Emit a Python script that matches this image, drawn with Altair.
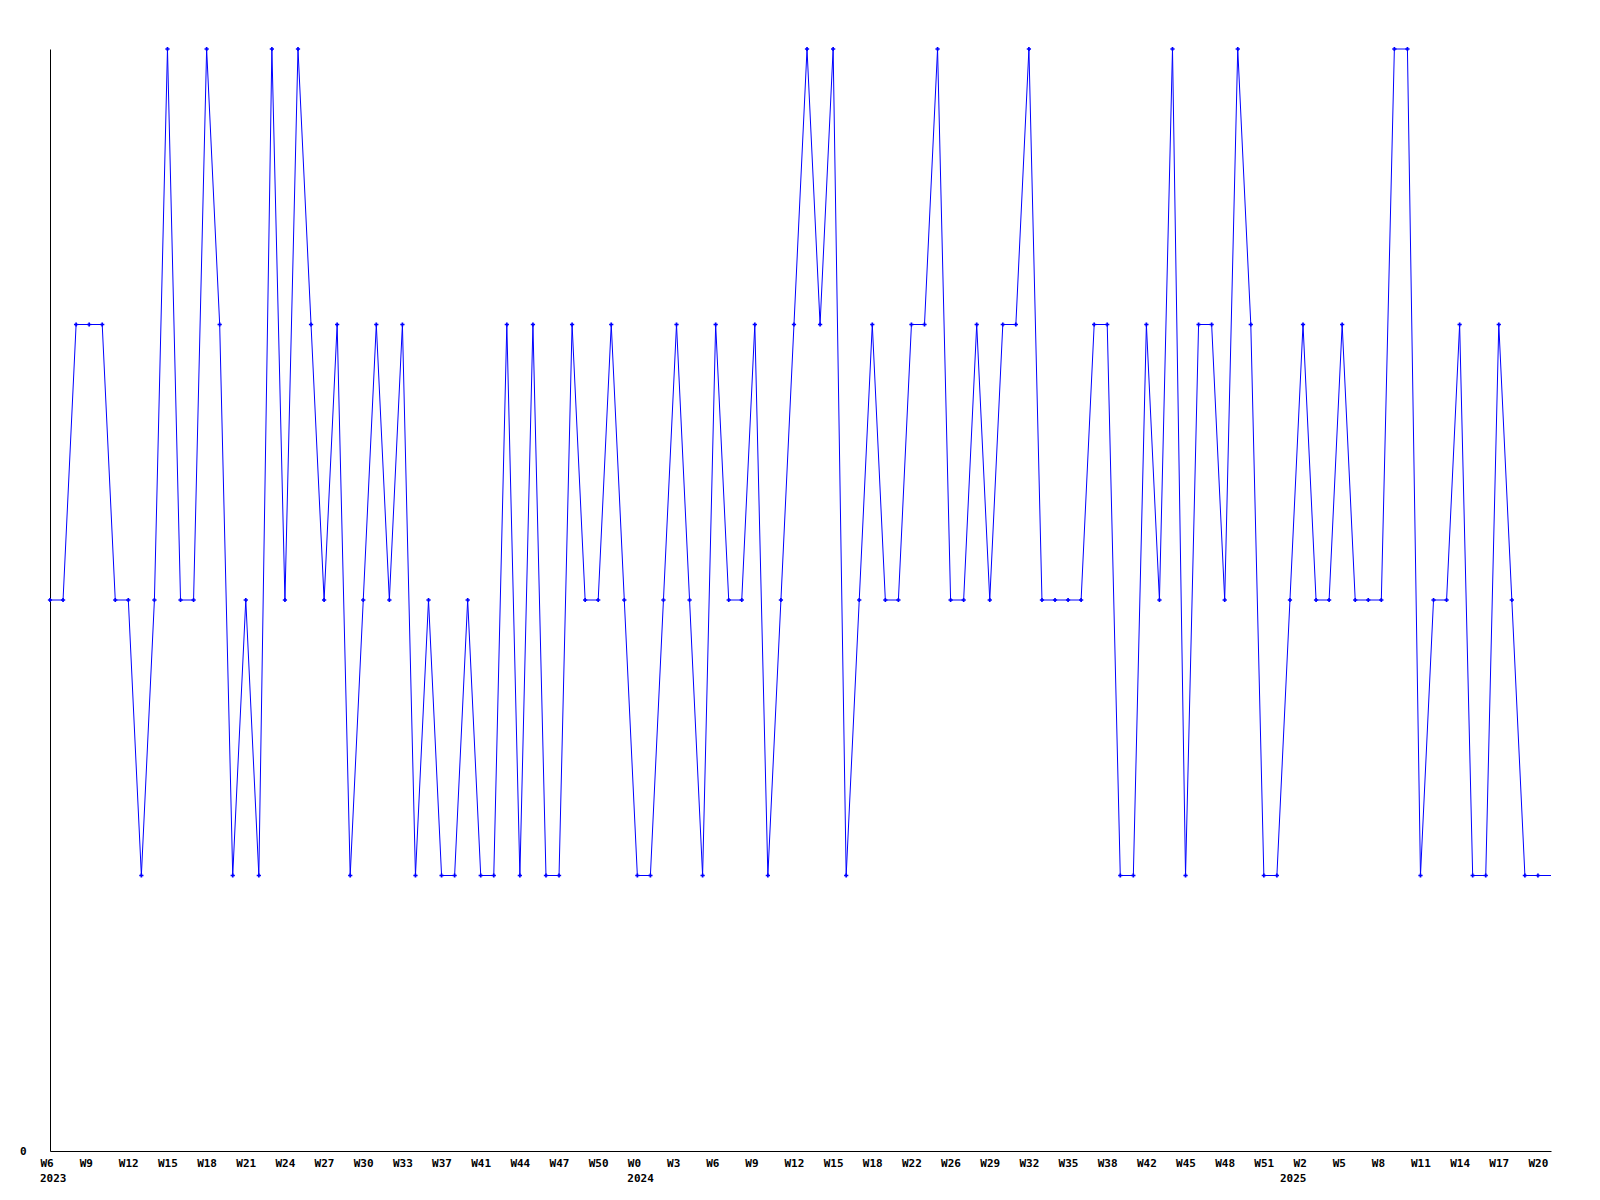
import altair as alt
import pandas as pd

values = [2, 2, 3, 3, 3, 2, 2, 1, 2, 4,
          2, 2, 4, 3, 1, 2, 1, 4, 2, 4,
          3, 2, 3, 1, 2, 3, 2, 3, 1, 2,
          1, 1, 2, 1, 1, 3, 1, 3, 1, 1,
          3, 2, 2, 3, 2, 1, 1, 2, 3, 2,
          1, 3, 2, 2, 3, 1, 2, 3, 4, 3,
          4, 1, 2, 3, 2, 2, 3, 3, 4, 2,
          2, 3, 2, 3, 3, 4, 2, 2, 2, 2,
          3, 3, 1, 1, 3, 2, 4, 1, 3, 3,
          2, 4, 3, 1, 1, 2, 3, 2, 2, 3,
          2, 2, 2, 4, 4, 1, 2, 2, 3, 1,
          1, 3, 2, 1, 1, 1]

week_labels = ["W6", "W9", "W12", "W15", "W18", "W21", "W24", "W27", "W30", "W33",
               "W37", "W41", "W44", "W47", "W50", "W0", "W3", "W6", "W9", "W12",
               "W15", "W18", "W22", "W26", "W29", "W32", "W35", "W38", "W42", "W45",
               "W48", "W51", "W2", "W5", "W8", "W11", "W14", "W17", "W20"]
label_step = 3

years = ["2023", "2024", "2025"]
year_index = [0, 45, 95]

n = len(values)
df = pd.DataFrame({"idx": list(range(n)), "value": values})
ydf = pd.DataFrame({"idx": year_index, "text": years})

W, H = 1501, 1102
FONT = "DejaVu Sans Mono"

label_array = "[" + ",".join("'%s'" % s for s in week_labels) + "]"
tick_vals = [i * label_step for i in range(len(week_labels))]

xscale = alt.Scale(domain=[0, n - 1], nice=False, zero=False)
yscale = alt.Scale(domain=[0, 4], nice=False, zero=True)

xaxis = alt.Axis(values=tick_vals, labelExpr=label_array + "[round(datum.value/%d)]" % label_step,
                 ticks=False, grid=False, domainColor="black", domainWidth=1,
                 labelAlign="left", labelOffset=-10, labelPadding=6, labelFont=FONT,
                 labelFontWeight="bold", labelFontSize=11, labelColor="black",
                 labelOverlap=False, labelFlush=False, labelBound=False, title=None)
yaxis = alt.Axis(values=[0], format="d", ticks=False, grid=False, domainColor="black", domainWidth=1,
                 labelPadding=24, labelFont=FONT, labelFontWeight="bold", labelFontSize=11,
                 labelColor="black", title=None)

X = alt.X("idx:Q", scale=xscale, axis=xaxis)
Y = alt.Y("value:Q", scale=yscale, axis=yaxis)

base = alt.Chart(df)
line = base.mark_line(color="#0000ff", strokeWidth=1).encode(x=X, y=Y)
pts = base.transform_filter("datum.idx < %d" % (n - 1)).mark_point(
    shape="cross", size=18, filled=True, color="#0000ff", opacity=1
).encode(x=X, y=Y)

yrs = alt.Chart(ydf).mark_text(
    align="left", baseline="top", dx=-10, font=FONT, fontWeight="bold", fontSize=11, color="black"
).encode(x=X, y=alt.value(H + 22), text="text:N")

chart = alt.layer(line, pts, yrs).properties(
    width=W, height=H,
    padding={"left": 42, "top": 41, "right": 40, "bottom": 60},
    autosize=alt.AutoSizeParams(type="none"),
    background="white",
).configure_view(strokeWidth=0, stroke=None)

chart.save("out.html", embed_options={"renderer": "svg", "actions": False})
